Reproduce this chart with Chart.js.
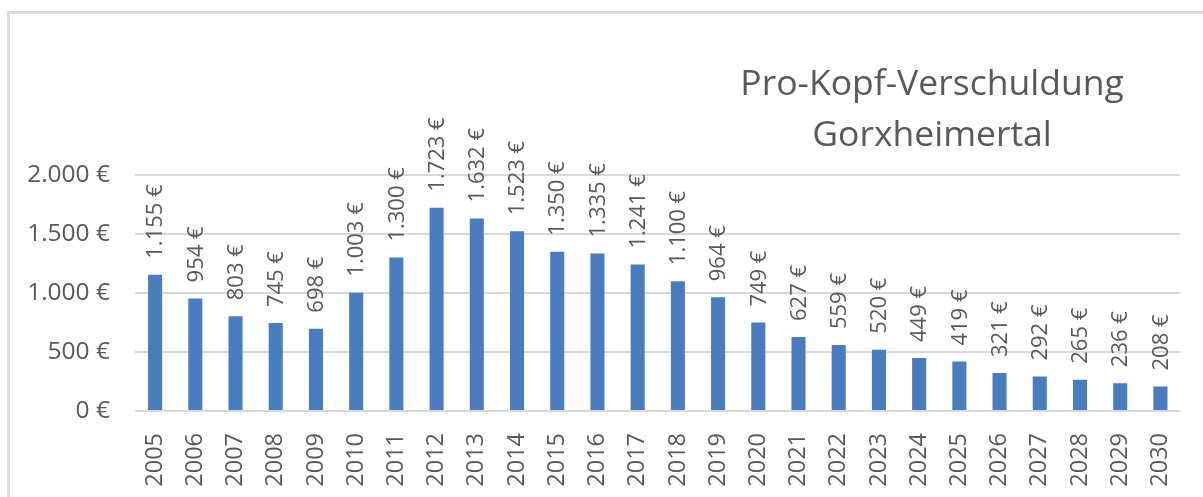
<!DOCTYPE html>
<html>
<head>
<meta charset="utf-8">
<script src="https://cdn.jsdelivr.net/npm/chart.js@4.4.0/dist/chart.umd.min.js"></script>
<style>
    html, body { margin: 0; padding: 0; background: #fff; overflow: hidden; }
    #frame {
        position: absolute; left: 7px; top: 11px; width: 1300px; height: 600px;
        border: 3px solid #dcdcdc; box-sizing: border-box;
    }
    canvas { position: absolute; left: 0; top: 0; }
</style>
</head>
<body>
<div id="frame"></div>
<canvas id="debtChart" width="1203" height="497"></canvas>
<script>
// Chart data
const years = ['2005','2006','2007','2008','2009','2010','2011','2012','2013','2014','2015','2016','2017',
    '2018','2019','2020','2021','2022','2023','2024','2025','2026','2027','2028','2029','2030'];
const debtPerCapita = [1155, 954, 803, 745, 698, 1003, 1300, 1723, 1632, 1523, 1350, 1335, 1241,
    1100, 964, 749, 627, 559, 520, 449, 419, 321, 292, 265, 236, 208];
const titleLines = ['Pro-Kopf-Verschuldung', 'Gorxheimertal'];

const textColor = '#595959';
const fontFamily = '"Open Sans", "Liberation Sans", sans-serif';

function euro(v) {
    return String(v).replace(/\B(?=(\d{3})+(?!\d))/g, '.') + ' €';
}

// value labels above bars, rotated
const barLabels = {
    id: 'barLabels',
    afterDatasetsDraw(chart) {
        const ctx = chart.ctx;
        const meta = chart.getDatasetMeta(0);
        ctx.save();
        ctx.fillStyle = textColor;
        ctx.font = '22px ' + fontFamily;
        ctx.textAlign = 'left';
        ctx.textBaseline = 'middle';
        meta.data.forEach((bar, i) => {
            ctx.save();
            ctx.translate(bar.x + 1, bar.y - 16);
            ctx.rotate(-Math.PI / 2);
            ctx.fillText(euro(debtPerCapita[i]), 0, 0);
            ctx.restore();
        });
        ctx.restore();
    }
};

const chartTitle = {
    id: 'chartTitle',
    afterDraw(chart) {
        const ctx = chart.ctx;
        ctx.save();
        ctx.fillStyle = textColor;
        ctx.font = '35.5px ' + fontFamily;
        ctx.textAlign = 'center';
        ctx.textBaseline = 'middle';
        ctx.fillText(titleLines[0], 932, 85);
        ctx.fillText(titleLines[1], 932, 136);
        ctx.restore();
    }
};

new Chart(document.getElementById('debtChart').getContext('2d'), {
    type: 'bar',
    data: {
        labels: years,
        datasets: [{
            data: debtPerCapita,
            backgroundColor: '#4a7dc0',
            barPercentage: 0.7,
            categoryPercentage: 0.5
        }]
    },
    options: {
        responsive: false,
        animation: false,
        layout: { padding: { top: 175, right: 20, left: 0, bottom: 0 } },
        plugins: { legend: { display: false }, tooltip: { enabled: false } },
        scales: {
            x: {
                grid: { display: false },
                border: { display: false },
                ticks: {
                    color: textColor,
                    font: { family: fontFamily, size: 23.5 },
                    minRotation: 90,
                    maxRotation: 90,
                    padding: 14,
                    autoSkip: false
                },
                afterFit(scale) { scale.height = 86; }
            },
            y: {
                min: 0,
                max: 2000,
                border: { display: false },
                grid: { color: '#d9d9d9', lineWidth: 2, drawTicks: false },
                ticks: {
                    stepSize: 500,
                    color: textColor,
                    font: { family: fontFamily, size: 24.5 },
                    padding: 25,
                    callback: (v) => euro(v)
                },
                afterFit(scale) { scale.width = 135; }
            }
        }
    },
    plugins: [barLabels, chartTitle]
});
</script>
</body>
</html>
